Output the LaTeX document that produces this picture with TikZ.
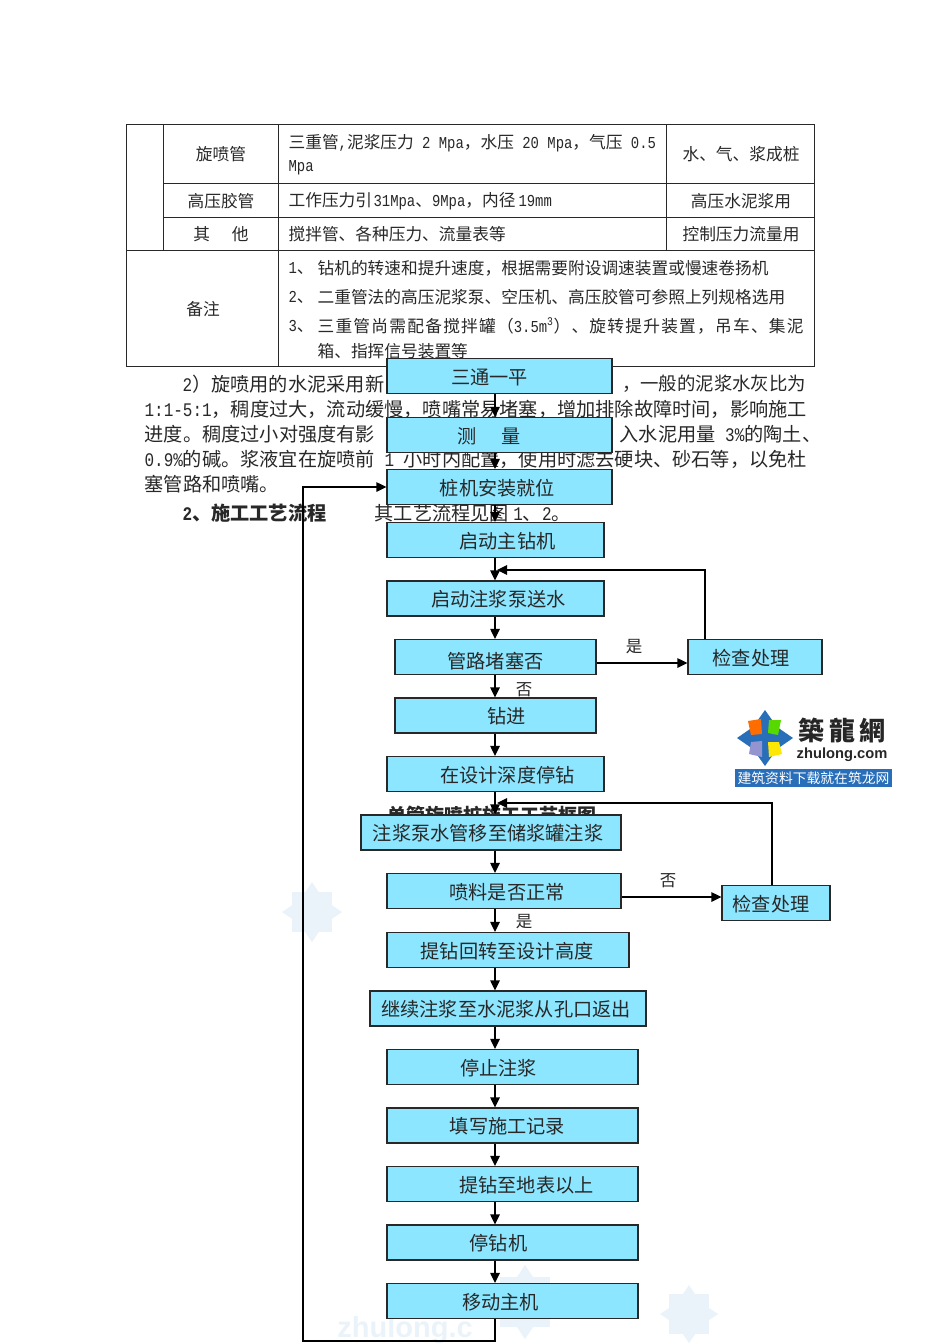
\documentclass[tikz,border=0pt]{standalone}
\usepackage{fontspec}
\setmainfont{Noto Sans CJK SC}
\newfontfamily\hw[FakeStretch=0.833]{Liberation Mono}
\newfontfamily\logolatin{Liberation Sans}
\usetikzlibrary{arrows.meta,positioning,calc}
\newcommand{\boxlabel}[3]{\hspace*{#1pt}\raisebox{\dimexpr-7.3pt-#2pt\relax}[0pt][0pt]{#3}\hspace*{-#1pt}}
\newcommand{\fs}[1]{\fontsize{#1}{#1}\selectfont}
\definecolor{boxblue}{RGB}{140,230,255}
\definecolor{inkgray}{RGB}{40,40,40}
\definecolor{markblue}{RGB}{235,243,250}
\definecolor{logoblue}{RGB}{40,110,185}

\begin{document}
\begin{tikzpicture}[
  x=1pt,y=-1pt,
  >={Triangle[length=10pt,width=9.5pt]},
  line width=1.2pt,
  flowbox/.style={rectangle, draw=inkgray, fill=boxblue, minimum height=35pt, inner sep=0pt, text=inkgray, font=\fs{19.2}},
  celltext/.style={text=inkgray, font=\fs{16.7}, inner sep=0pt},
  leftcell/.style={celltext, anchor=west},
  bodytext/.style={text=inkgray, font=\fs{19.2}, inner sep=0pt, anchor=west},
  sidenote/.style={text=inkgray, font=\fs{16.5}, inner sep=0pt},
  rule/.style={draw=inkgray, line width=0.9pt}
]
\useasboundingbox (0,0) rectangle (950,1344);
\fill[white] (0,0) rectangle (950,1344);

% watermark
\foreach \x/\y/\r in {312/912/30,525/1302/37,689/1314/29} {
  \fill[markblue] (\x,\y-\r) -- (\x+0.4*\r,\y-0.4*\r) -- (\x+\r,\y) -- (\x+0.4*\r,\y+0.4*\r) -- (\x,\y+\r) -- (\x-0.4*\r,\y+0.4*\r) -- (\x-\r,\y) -- (\x-0.4*\r,\y-0.4*\r) -- cycle;
  \fill[markblue] (\x-0.68*\r,\y-0.68*\r) rectangle (\x+0.68*\r,\y+0.68*\r);
}
\node[text=markblue, font=\logolatin\fs{29}\bfseries, inner sep=0pt] (markname) at (405,1330) {zhulong.c};

% table
\draw[rule] (126,124) rectangle (814.5,366.5);
\draw[rule] (163,124) -- (163,250);
\draw[rule] (278.5,124) -- (278.5,366.5);
\draw[rule] (666.5,124) -- (666.5,250);
\draw[rule] (163,183) -- (814.5,183);
\draw[rule] (163,217) -- (814.5,217);
\draw[rule] (126,250) -- (814.5,250);

\node[celltext] (c11) at (221,154) {旋喷管};
\node[celltext] (c21) at (221,201) {高压胶管};
\node[celltext] (c31) at (221,234) {其\hspace{1.3em}他};
\node[celltext] (c41) at (203,309) {备注};
\node[leftcell] (c12) at (288,143) {三重管{\hw,}泥浆压力{\hw\ 2 Mpa}，水压{\hw\ 20 Mpa}，气压{\hw\ 0.5}};
\node[leftcell] (c12b) at (288,168) {\hw Mpa};
\node[leftcell] (c22) at (288,201) {工作压力引\hspace{1.5pt}{\hw 31Mpa}、{\hw 9Mpa}，内径\hspace{3pt}{\hw 19mm}};
\node[leftcell] (c32) at (288,234) {搅拌管、各种压力、流量表等};
\node[celltext] (c13) at (741,154) {水、气、浆成桩};
\node[celltext] (c23) at (741,201) {高压水泥浆用};
\node[celltext] (c33) at (741,234) {控制压力流量用};
\node[leftcell] (n1) at (288,268) {{\hw 1}、};
\node[leftcell] (n1t) at (317,268) {钻机的转速和提升速度，根据需要附设调速装置或慢速卷扬机};
\node[leftcell] (n2) at (288,297) {{\hw 2}、};
\node[leftcell] (n2t) at (317,297) {二重管法的高压泥浆泵、空压机、高压胶管可参照上列规格选用};
\node[leftcell] (n3) at (288,326) {{\hw 3}、};
\node[leftcell] (n3t) at (317,326) {\addfontfeature{LetterSpace=7.5}三重管尚需配备搅拌罐（{\hw 3.5m\textsuperscript{3}}）、旋转提升装置，吊车、集泥};
\node[leftcell] (n3u) at (317,351) {箱、指挥信号装置等};

% body text
\node[bodytext] (p1a) at (182,384) {{\hw 2}）旋喷用的水泥采用新};
\node[bodytext,font=\fs{18.4}] (p1b) at (621.5,384) {，一般的泥浆水灰比为};
\node[bodytext] (p2) at (144,409) {{\hw 1:1-5:1}，稠度过大，流动缓慢，喷嘴常易堵塞，增加排除故障时间，影响施工};
\node[bodytext] (p3a) at (144,434) {进度。稠度过小对强度有影};
\node[bodytext] (p3b) at (619,434) {入水泥用量{\hw\ 3\%}的陶土、};
\node[bodytext] (p4) at (144,459) {{\hw 0.9\%}的碱。浆液宜在旋喷前{\hw\ 1 }小时内配置，使用时滤去硬块、砂石等，以免杜};
\node[bodytext] (p5) at (144,484) {塞管路和喷嘴。};
\node[bodytext,font=\fs{19.2}\bfseries] (p6a) at (182,513) {{\hw\bfseries 2}、施工工艺流程};
\node[bodytext] (p6b) at (374,513) {其工艺流程见图 {\hw 1}、{\hw 2}。};
\node[bodytext,font=\fs{19}\bfseries] (figtitle) at (387,815) {单管旋喷桩施工工艺框图};

% logo
\fill[logoblue] (765,710) -- (777,727) -- (793,738) -- (777,749) -- (765,766) -- (753,749) -- (737,738) -- (753,727) -- cycle;
\fill[orange!85!red] (748,721) -- (761,719) -- (762,734) -- (751,735) -- cycle;
\fill[green!60!yellow!85!black] (769,720) -- (781,720) -- (778,735) -- (768,733) -- cycle;
\fill[blue!40!gray!60!white] (751,742) -- (762,741) -- (762,757) -- (749,754) -- cycle;
\fill[yellow!90!orange] (768,742) -- (779,742) -- (782,754) -- (769,757) -- cycle;
\fill[logoblue] (735,769) rectangle (892,787);
\node[font=\fs{26}\bfseries, text=black!85, inner sep=0pt] (logocn) at (842,730) {築\hspace{5pt}龍\hspace{5pt}網};
\node[font=\logolatin\fs{14.7}\bfseries, text=black!85, inner sep=0pt] (logoen) at (842,755) {zhulong.com};
\node[font=\fs{13.8}, text=white, inner sep=0pt] (logobar) at (813.5,778) {建筑资料下载就在筑龙网};

% flow boxes
\coordinate (axis) at (495,0);
\node[flowbox,minimum width=225pt] (santong) at (499.5,376) {\boxlabel{-10}{1}{三通一平}};
\node[flowbox,minimum width=225pt] (celiang) at (499.5,435) {\boxlabel{-10}{1}{测\hspace{1.3em}量}};
\node[flowbox,minimum width=225pt] (zhuangji) at (499.5,487) {\boxlabel{-2}{1}{桩机安装就位}};
\node[flowbox,minimum width=217pt] (zhuzuan) at (495.5,540) {\boxlabel{12}{1}{启动主钻机}};
\node[flowbox,minimum width=217pt] (zhujiang) at (495.5,598.5) {\boxlabel{3}{1}{启动注浆泵送水}};
\node[sidenote] (no1) at (524,690) {否};
\node[flowbox,minimum width=201pt] (pipe) at (495.5,657) {\boxlabel{0}{4}{管路堵塞否}};
\node[flowbox,minimum width=201pt] (drill) at (495.5,715.5) {\boxlabel{11}{1}{钻进}};
\node[flowbox,minimum width=217pt] (stopdepth) at (495.5,774) {\boxlabel{12}{1}{在设计深度停钻}};
\node[flowbox,minimum width=260pt] (grout) at (491,832.5) {\boxlabel{-3}{1}{注浆泵水管移至储浆罐注浆}};
\node[flowbox,minimum width=234pt] (spray) at (504,891) {\boxlabel{3}{1}{喷料是否正常}};
\node[flowbox,minimum width=242pt] (lift) at (508,950) {\boxlabel{-1}{1}{提钻回转至设计高度}};
\node[flowbox,minimum width=276pt] (cont) at (508,1008.5) {\boxlabel{-2}{1}{继续注浆至水泥浆从孔口返出}};
\node[flowbox,minimum width=251pt] (stopgrout) at (512.5,1067) {\boxlabel{-14}{1}{停止注浆}};
\node[flowbox,minimum width=251pt] (record) at (512.5,1125.5) {\boxlabel{-5}{1}{填写施工记录}};
\node[flowbox,minimum width=251pt] (surface) at (512.5,1184) {\boxlabel{14}{1}{提钻至地表以上}};
\node[flowbox,minimum width=251pt] (stopdrill) at (512.5,1242.5) {\boxlabel{-14}{1}{停钻机}};
\node[flowbox,minimum width=251pt] (movehost) at (512.5,1301) {\boxlabel{-12}{1}{移动主机}};
\node[flowbox,minimum width=134pt] (check1) at (755,657) {\boxlabel{-4}{1}{检查处理}};
\node[flowbox,minimum width=108pt] (check2) at (776,903) {\boxlabel{-5}{1}{检查处理}};

\node[sidenote] (yes1) at (634,647) {是};
\node[sidenote] (no2) at (668,881) {否};
\node[sidenote] (yes2) at (524,922) {是};

% connectors
\foreach \a/\b in {santong/celiang,celiang/zhuangji,zhuangji/zhuzuan,zhuzuan/zhujiang,zhujiang/pipe,pipe/drill,drill/stopdepth,stopdepth/grout,grout/spray,spray/lift,lift/cont,cont/stopgrout,stopgrout/record,record/surface,surface/stopdrill,stopdrill/movehost} {
  \draw[->,black] (\a.south -| axis) -- (\b.north -| axis);
}
\draw[->] ([yshift=-6pt]pipe.east) -- ([yshift=-6pt]check1.west);
\draw[->] ([yshift=-6pt]spray.east) -- ([yshift=6pt]check2.west);
\coordinate (merge1) at (497,570);
\coordinate (merge2) at (497,803);
\draw[->] ([xshift=-50pt]check1.north) |- (merge1);
\draw[->] ([xshift=-4pt]check2.north) |- (merge2);
\coordinate (loopa) at (495,1341);
\coordinate (loopb) at (303,1341);
\draw[->] (movehost.south -| axis) -- (loopa) -- (loopb) |- (zhuangji.west);

\end{tikzpicture}
\end{document}
